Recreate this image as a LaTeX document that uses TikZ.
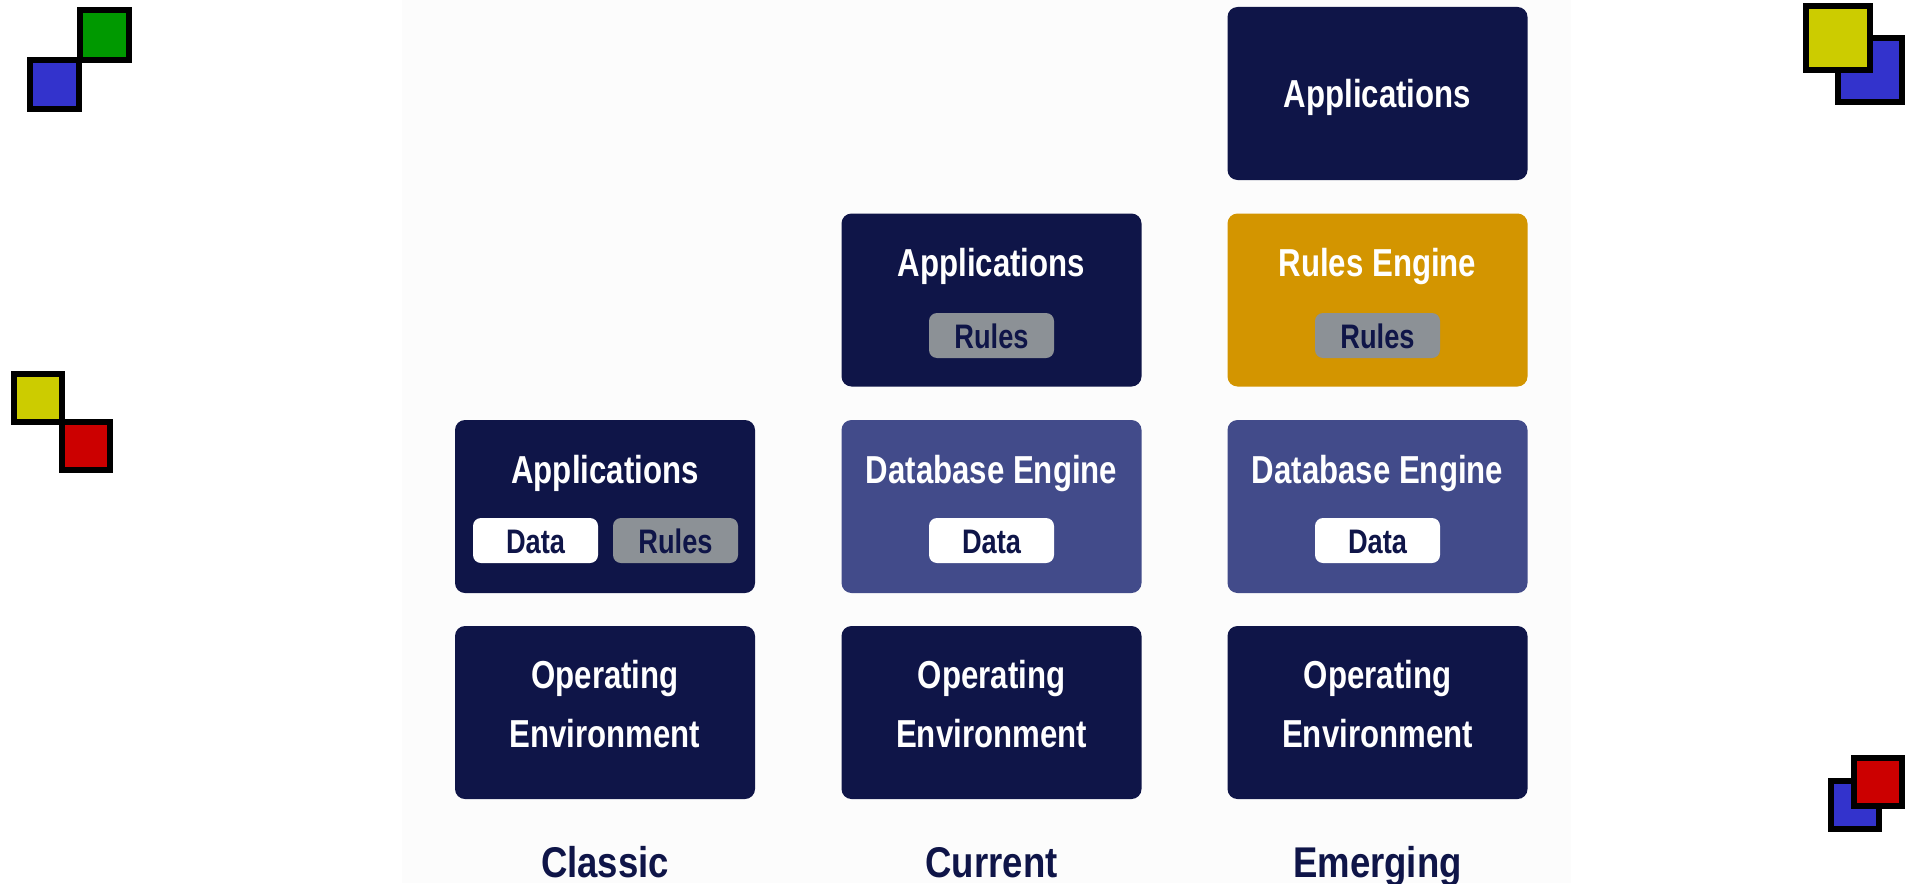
\documentclass[tikz,border=0pt]{standalone}
\usepackage{fontspec}
\setmainfont{Liberation Sans}
\newfontfamily\condfont[FakeStretch=0.8]{Liberation Sans}
\newfontfamily\erafont[FakeStretch=0.85]{Liberation Sans}
\definecolor{navy}{RGB}{15,21,72}
\definecolor{dbblue}{RGB}{66,75,138}
\definecolor{amber}{RGB}{211,149,0}
\definecolor{pillgray}{RGB}{140,145,150}
\definecolor{sqgreen}{RGB}{0,153,0}
\definecolor{sqblue}{RGB}{51,51,204}
\definecolor{sqyellow}{RGB}{204,204,0}
\definecolor{sqred}{RGB}{204,0,0}
\definecolor{bgtint}{RGB}{252,252,252}
\begin{document}
\begin{tikzpicture}[x=0.5pt,y=-0.5pt,
  layer/.style={fill=#1, draw=none, rounded corners=5pt, minimum width=150pt, minimum height=86.5pt, inner sep=0pt},
  title/.style={anchor=base, text=white, inner sep=0pt, font=\condfont\bfseries\fontsize{19.5}{23}\selectfont},
  pill/.style={fill=#1, draw=none, rounded corners=4pt, minimum width=62.5pt, minimum height=22.5pt, inner sep=0pt},
  pilltext/.style={anchor=base, text=navy, inner sep=0pt, font=\condfont\bfseries\fontsize{17}{20}\selectfont},
  era/.style={anchor=base, text=navy, inner sep=0pt, font=\erafont\bfseries\fontsize{21.5}{25}\selectfont},
  sq/.style={draw=black, line width=3pt, fill=#1}
]
\useasboundingbox (0,0) rectangle (1909,883);
\fill[bgtint] (402,0) rectangle (1571,883);

% decorative squares
\draw[sq=sqblue] (30,60) rectangle (79,109);
\draw[sq=sqgreen] (80,10) rectangle (129,60);
\draw[sq=sqyellow] (14,374) rectangle (62,422);
\draw[sq=sqred] (62,422) rectangle (110,470);
\draw[sq=sqblue] (1838,38) rectangle (1902,102);
\draw[sq=sqyellow] (1806,6) rectangle (1870,70);
\draw[sq=sqblue] (1831,781) rectangle (1879,829);
\draw[sq=sqred] (1854,758) rectangle (1902,806);

% layer boxes
\node[layer=navy] (emApp) at (1377.5,93.5) {};
\node[layer=navy] (cuApp) at (991.5,300) {};
\node[layer=amber] (emRul) at (1377.5,300) {};
\node[layer=navy] (clApp) at (605,506.5) {};
\node[layer=dbblue] (cuDb) at (991.5,506.5) {};
\node[layer=dbblue] (emDb) at (1377.5,506.5) {};
\node[layer=navy] (clOs) at (605,712.5) {};
\node[layer=navy] (cuOs) at (991.5,712.5) {};
\node[layer=navy] (emOs) at (1377.5,712.5) {};

% titles
\node[title] (emAppT) at (1377.5,107) {Applications};
\node[title] (cuAppT) at (991.5,276.5) {Applications};
\node[title] (emRulT) at (1377.5,276.5) {Rules Engine};
\node[title] (clAppT) at (605,483) {Applications};
\node[title] (cuDbT) at (991.5,483) {Database Engine};
\node[title] (emDbT) at (1377.5,483) {Database Engine};
\node[title] (clOsT1) at (605,688) {Operating};
\node[title] (clOsT2) at (605,747) {Environment};
\node[title] (cuOsT1) at (991.5,688) {Operating};
\node[title] (cuOsT2) at (991.5,747) {Environment};
\node[title] (emOsT1) at (1377.5,688) {Operating};
\node[title] (emOsT2) at (1377.5,747) {Environment};

% pills
\node[pill=pillgray] (cuRules) at (991.5,335.5) {};
\node[pilltext] (cuRulesT) at (991.5,348) {Rules};
\node[pill=pillgray] (emRules) at (1377.5,335.5) {};
\node[pilltext] (emRulesT) at (1377.5,348) {Rules};
\node[pill=white] (clData) at (535.5,540.5) {};
\node[pilltext] (clDataT) at (535.5,553) {Data};
\node[pill=pillgray] (clRules) at (675.5,540.5) {};
\node[pilltext] (clRulesT) at (675.5,553) {Rules};
\node[pill=white] (cuData) at (991.5,540.5) {};
\node[pilltext] (cuDataT) at (991.5,553) {Data};
\node[pill=white] (emData) at (1377.5,540.5) {};
\node[pilltext] (emDataT) at (1377.5,553) {Data};

% era labels
\node[era] (clLab) at (605,877) {Classic};
\node[era] (cuLab) at (991.5,877) {Current};
\node[era] (emLab) at (1377.5,877) {Emerging};
\end{tikzpicture}
\end{document}
